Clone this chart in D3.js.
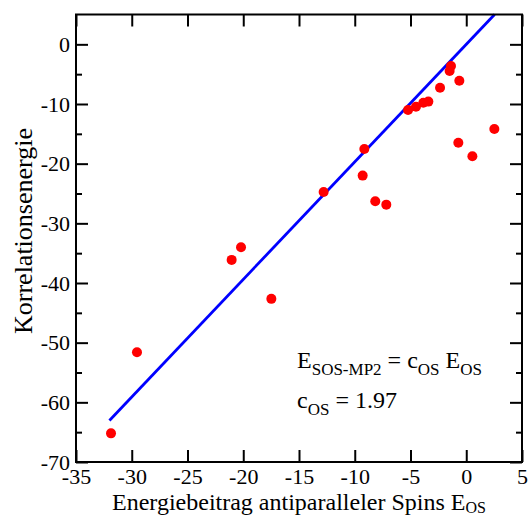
<!DOCTYPE html>
<html>
<head>
<meta charset="utf-8">
<script src="https://cdn.jsdelivr.net/npm/d3@7/dist/d3.min.js"></script>
<style>
  body { margin: 0; background: #fff; }
  svg text { font-family: "Liberation Serif", "Times New Roman", serif; fill: #000; }
</style>
</head>
<body>
<svg id="chart" width="529" height="517"></svg>
<script>
// E_OS (x) and correlation energy (y)
var eOS = [-31.86, -29.53, -21.04, -20.2, -17.48, -12.79, -9.29, -9.14, -8.16, -7.17,
           -5.22, -4.51, -3.85, -3.40, -2.35, -1.49, -1.37, -0.62, -0.71, 0.55, 2.52];
var eCorr = [-65.2, -51.6, -36.13, -34.0, -42.66, -24.74, -22.0, -17.54, -26.3, -26.87,
             -11.0, -10.45, -9.78, -9.6, -7.27, -4.47, -3.63, -6.1, -16.48, -18.77, -14.19];
// fitted line E_SOS-MP2 = c_OS * E_OS
var cOS = 1.97;
var fitRange = [-32, 2.54];
var xTicks = [-35, -30, -25, -20, -15, -10, -5, 0, 5];
var yTicks = [-70, -60, -50, -40, -30, -20, -10, 0];
var yMinor = [-65, -55, -45, -35, -25, -15, -5];

var svg = d3.select('#chart');
var L = 76, R = 522, T = 14.5, B = 462;
var x = d3.scaleLinear().domain([-35, 5]).range([L, R]);
var y = d3.scaleLinear().domain([-70, 5]).range([B, T]);
var fmt = function(d){ return String(d); }; // plain hyphen minus like the original

// fit line
var fit = fitRange.map(function(v){ return [v, cOS * v]; });
svg.append('path')
  .attr('d', d3.line().x(function(d){ return x(d[0]); }).y(function(d){ return y(d[1]); })(fit))
  .attr('stroke', '#0000ff').attr('stroke-width', 2.8).attr('fill', 'none');

// points
svg.append('g').selectAll('circle').data(eOS).enter().append('circle')
  .attr('cx', function(d){ return x(d); })
  .attr('cy', function(d, i){ return y(eCorr[i]); })
  .attr('r', 5).attr('fill', '#ff0000');

// axes, ticks pointing inwards
function styleAxis(g) {
  g.select('.domain').remove();
  g.selectAll('line').attr('stroke', '#000').attr('stroke-width', 2);
  g.selectAll('text').style('font-size', '22px').style('font-family', '"Liberation Serif", serif');
}
svg.append('g').attr('transform', 'translate(0,' + B + ')')
  .call(d3.axisBottom(x).tickValues(xTicks).tickSize(-12).tickPadding(6).tickFormat(fmt))
  .call(styleAxis);
svg.append('g').attr('transform', 'translate(0,' + T + ')')
  .call(d3.axisTop(x).tickValues(xTicks).tickSize(-12).tickFormat(''))
  .call(styleAxis);
svg.append('g').attr('transform', 'translate(' + L + ',0)')
  .call(d3.axisLeft(y).tickValues(yTicks).tickSize(-12).tickPadding(6).tickFormat(fmt))
  .call(styleAxis);
svg.append('g').attr('transform', 'translate(' + L + ',0)')
  .call(d3.axisLeft(y).tickValues(yMinor).tickSize(-6).tickFormat(''))
  .call(styleAxis);
svg.append('g').attr('transform', 'translate(' + R + ',0)')
  .call(d3.axisRight(y).tickValues(yTicks).tickSize(-12).tickFormat(''))
  .call(styleAxis);
svg.append('g').attr('transform', 'translate(' + R + ',0)')
  .call(d3.axisRight(y).tickValues(yMinor).tickSize(-6).tickFormat(''))
  .call(styleAxis);

// frame
svg.append('rect').attr('x', L).attr('y', T).attr('width', R - L).attr('height', B - T)
  .attr('fill', 'none').attr('stroke', '#000').attr('stroke-width', 2);

// axis titles
var xl = svg.append('text').attr('x', 299).attr('y', 510).attr('text-anchor', 'middle').style('font-size', '24px');
xl.append('tspan').text('Energiebeitrag antiparalleler Spins E');
xl.append('tspan').attr('dy', 3).style('font-size', '16px').text('OS');

svg.append('text').attr('transform', 'translate(32,231) rotate(-90)')
  .attr('text-anchor', 'middle').style('font-size', '26px').text('Korrelationsenergie');

// annotation
var a1 = svg.append('text').attr('x', 297).attr('y', 368).style('font-size', '24px');
a1.append('tspan').text('E');
a1.append('tspan').attr('dy', 7).style('font-size', '17px').text('SOS-MP2');
a1.append('tspan').attr('dy', -7).text(' = c');
a1.append('tspan').attr('dy', 7).style('font-size', '17px').text('OS');
a1.append('tspan').attr('dy', -7).text(' E');
a1.append('tspan').attr('dy', 7).style('font-size', '17px').text('OS');

var a2 = svg.append('text').attr('x', 297).attr('y', 408).style('font-size', '24px');
a2.append('tspan').text('c');
a2.append('tspan').attr('dy', 7).style('font-size', '17px').text('OS');
a2.append('tspan').attr('dy', -7).text(' = 1.97');
</script>
</body>
</html>
